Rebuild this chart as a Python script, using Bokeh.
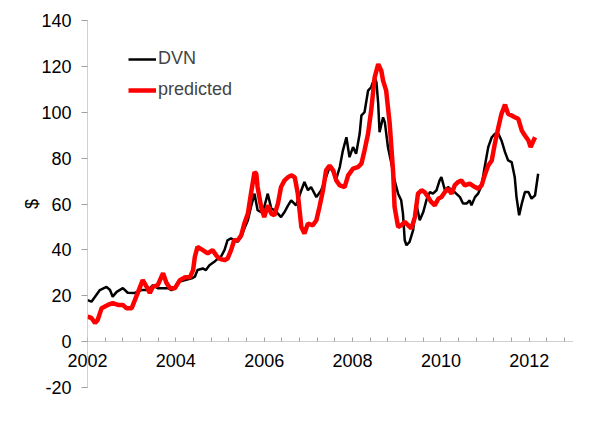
from bokeh.plotting import figure
from bokeh.models import (Range1d, FixedTicker, Legend, LegendItem, PrintfTickFormatter,
                          LinearAxis)
from bokeh.embed import file_html
from bokeh.resources import INLINE

# ---- data ----
dvn_years = [2002.00, 2002.09, 2002.28, 2002.43, 2002.51, 2002.57, 2002.66, 2002.80, 2002.91,
             2003.07, 2003.22, 2003.37, 2003.48, 2003.59, 2003.82, 2003.90, 2003.98,
             2004.05, 2004.21, 2004.36, 2004.43, 2004.49, 2004.61, 2004.68, 2004.76, 2004.87, 2004.95,
             2005.02, 2005.10, 2005.17, 2005.25, 2005.32, 2005.40, 2005.48, 2005.55, 2005.63, 2005.70,
             2005.78, 2005.85, 2005.93, 2006.00, 2006.08, 2006.16, 2006.23, 2006.31, 2006.38, 2006.46,
             2006.54, 2006.61, 2006.72, 2006.84, 2006.91, 2006.99, 2007.06, 2007.18, 2007.29, 2007.40,
             2007.48, 2007.56, 2007.63, 2007.71, 2007.78, 2007.86, 2007.93, 2008.01, 2008.08, 2008.16,
             2008.20, 2008.27, 2008.35, 2008.42, 2008.50, 2008.54, 2008.58, 2008.61, 2008.69, 2008.73,
             2008.80, 2008.88, 2008.95, 2009.03, 2009.10, 2009.14, 2009.18, 2009.22, 2009.29, 2009.37,
             2009.44, 2009.52, 2009.60, 2009.67, 2009.75, 2009.82, 2009.90, 2009.97, 2010.01, 2010.09,
             2010.16, 2010.24, 2010.31, 2010.43, 2010.50, 2010.58, 2010.65, 2010.69, 2010.77, 2010.84,
             2010.92, 2010.99, 2011.07, 2011.15, 2011.22, 2011.30, 2011.37, 2011.45, 2011.52, 2011.60,
             2011.67, 2011.71, 2011.77, 2011.83, 2011.90, 2011.98, 2012.05, 2012.13, 2012.20]
dvn_values = [18.1, 17.4, 22.5, 23.9, 22.5, 19.6, 21.7, 23.3, 21.3,
              21.2, 22.5, 22.5, 24.6, 23.3, 23.3, 22.5, 23.3,
              26.0, 26.8, 27.6, 28.3, 31.2, 31.9, 31.2, 33.3, 34.8, 36.2,
              37.0, 39.9, 44.2, 45.0, 44.2, 43.5, 45.7, 49.3, 52.9, 58.7,
              64.5, 57.3, 56.5, 58.7, 64.5, 58.0, 57.3, 55.8, 54.3, 56.5,
              59.4, 61.6, 59.4, 66.0, 69.6, 66.0, 67.4, 63.0, 66.0, 71.7,
              76.1, 73.9, 71.0, 76.1, 83.3, 89.1, 80.4, 84.8, 81.9, 90.6,
              98.6, 100.0, 109.4, 110.9, 115.2, 113.0, 103.7, 91.3, 97.8, 95.6,
              84.8, 77.6, 70.3, 64.5, 61.6, 55.8, 44.2, 42.0, 43.5, 48.6,
              60.2, 52.9, 56.5, 61.6, 65.2, 64.5, 66.0, 70.3, 71.7, 66.0,
              67.4, 66.0, 65.2, 63.0, 60.2, 60.2, 61.6, 59.4, 63.0, 64.5,
              68.1, 76.1, 84.8, 89.1, 90.6, 90.6, 87.7, 82.6, 79.0, 78.3,
              71.7, 63.0, 55.1, 60.2, 65.2, 65.2, 62.3, 63.8, 73.2]

pred_years = [2002.00, 2002.09, 2002.17, 2002.23, 2002.32, 2002.46, 2002.57, 2002.69, 2002.80, 2002.88,
              2003.00, 2003.07, 2003.19, 2003.25, 2003.34, 2003.41, 2003.48, 2003.59, 2003.71, 2003.79,
              2003.87, 2003.98, 2004.09, 2004.21, 2004.32, 2004.39, 2004.43, 2004.49, 2004.61, 2004.72,
              2004.83, 2004.91, 2004.98, 2005.10, 2005.17, 2005.25, 2005.32, 2005.40, 2005.48, 2005.55,
              2005.63, 2005.70, 2005.78, 2005.82, 2005.85, 2005.93, 2006.00, 2006.08, 2006.16, 2006.23,
              2006.31, 2006.38, 2006.46, 2006.54, 2006.61, 2006.69, 2006.76, 2006.84, 2006.91, 2006.99,
              2007.10, 2007.18, 2007.25, 2007.33, 2007.40, 2007.48, 2007.56, 2007.63, 2007.71, 2007.82,
              2007.90, 2008.01, 2008.12, 2008.20, 2008.27, 2008.35, 2008.42, 2008.50, 2008.58, 2008.65,
              2008.69, 2008.76, 2008.84, 2008.92, 2008.95, 2009.03, 2009.10, 2009.18, 2009.26, 2009.33,
              2009.41, 2009.48, 2009.56, 2009.63, 2009.71, 2009.78, 2009.86, 2009.94, 2010.01, 2010.09,
              2010.16, 2010.24, 2010.31, 2010.39, 2010.46, 2010.54, 2010.65, 2010.77, 2010.84, 2010.92,
              2010.99, 2011.07, 2011.15, 2011.22, 2011.30, 2011.37, 2011.45, 2011.52, 2011.60, 2011.67,
              2011.75, 2011.83, 2011.90, 2011.98, 2012.03, 2012.08, 2012.13]
pred_values = [10.9, 10.3, 8.1, 9.4, 14.6, 16.0, 16.8, 16.0, 16.0, 14.6,
               14.6, 18.0, 23.9, 26.8, 23.9, 21.2, 23.9, 24.6, 29.8, 25.5,
               23.3, 23.3, 26.8, 28.1, 28.1, 31.2, 37.0, 41.3, 39.9, 38.5,
               39.9, 37.7, 36.2, 35.5, 36.2, 39.9, 44.2, 44.2, 46.4, 51.5,
               55.8, 64.5, 73.9, 73.2, 67.4, 58.7, 54.3, 59.4, 55.8, 55.1,
               60.2, 67.4, 70.3, 71.7, 72.5, 71.7, 64.5, 50.0, 47.1, 51.5,
               50.7, 52.9, 58.7, 66.0, 74.7, 76.8, 74.7, 70.3, 68.1, 67.4,
               72.5, 75.4, 76.1, 77.6, 83.3, 90.6, 100.7, 115.2, 121.0, 118.1,
               113.8, 109.4, 95.0, 73.2, 58.7, 50.0, 50.7, 52.2, 50.7, 49.3,
               54.3, 64.5, 66.0, 65.2, 63.0, 60.9, 59.4, 62.3, 63.0, 65.2,
               66.7, 64.5, 68.1, 69.6, 70.3, 68.1, 68.9, 67.4, 66.7, 68.1,
               72.5, 76.8, 79.0, 86.3, 93.5, 99.3, 103.3, 99.3, 98.6, 97.8,
               97.1, 92.0, 89.9, 87.7, 84.8, 87.0, 89.1]

x_major_ticks = [2002, 2004, 2006, 2008, 2010, 2012]
x_minor_ticks = [2002.4, 2002.8, 2003.2, 2003.6, 2004.4, 2004.8, 2005.2, 2005.6,
                 2006.4, 2006.8, 2007.2, 2007.6, 2008.4, 2008.8, 2009.2, 2009.6,
                 2010.4, 2010.8, 2011.2, 2011.6, 2012.4, 2012.8]
y_ticks = [-20, 0, 20, 40, 60, 80, 100, 120, 140]

FONT = "Liberation Sans"
AXIS_GRAY = "#a0a0a0"

p = figure(width=600, height=420,
           min_border_left=87, min_border_right=27, min_border_top=20, min_border_bottom=33,
           x_range=Range1d(2002, 2013), y_range=Range1d(-20, 140),
           output_backend="svg", toolbar_location=None)
p.outline_line_color = None
p.xgrid.grid_line_color = None
p.ygrid.grid_line_color = None
p.background_fill_color = "white"
p.border_fill_color = "white"

# bottom axis: only its tick labels are shown, pulled up to sit just below the y = 0 line
xa = p.xaxis[0]
xa.ticker = FixedTicker(ticks=x_major_ticks, minor_ticks=[])
xa.axis_line_color = None
xa.major_tick_line_color = None
xa.minor_tick_line_color = None
xa.major_tick_in = 0
xa.major_tick_out = 0
xa.major_label_standoff = -34
xa.major_label_text_font = FONT
xa.major_label_text_font_size = "18px"
xa.major_label_text_color = "black"

# x axis line and ticks crossing at y = 0
x0 = LinearAxis(fixed_location=0,
                ticker=FixedTicker(ticks=x_major_ticks, minor_ticks=x_minor_ticks),
                axis_line_color=AXIS_GRAY, axis_line_dash="1 1",
                major_tick_line_color=AXIS_GRAY, minor_tick_line_color=AXIS_GRAY,
                major_tick_in=4, major_tick_out=0, minor_tick_in=4, minor_tick_out=0,
                major_label_text_color=None, major_label_text_font_size="0px")
p.add_layout(x0, "below")

ya = p.yaxis[0]
ya.ticker = FixedTicker(ticks=y_ticks, minor_ticks=[])
ya.formatter = PrintfTickFormatter(format="%d")
ya.axis_line_color = AXIS_GRAY
ya.axis_line_dash = "1 1"
ya.major_tick_line_color = AXIS_GRAY
ya.major_tick_in = 0
ya.major_tick_out = 6
ya.minor_tick_line_color = None
ya.major_label_standoff = 10
ya.major_label_text_font = FONT
ya.major_label_text_font_size = "18px"
ya.major_label_text_color = "black"
ya.axis_label = "$"
ya.axis_label_text_font = FONT
ya.axis_label_text_font_size = "18px"
ya.axis_label_text_font_style = "normal"
ya.axis_label_text_color = "black"
ya.axis_label_standoff = -4

r_dvn = p.line(dvn_years, dvn_values, line_color="black", line_width=2.5)
r_pred = p.line(pred_years, pred_values, line_color="#ff0000", line_width=4.5)

legend = Legend(items=[LegendItem(label="DVN", renderers=[r_dvn]),
                       LegendItem(label="predicted", renderers=[r_pred])],
                location=(41, 287), orientation="vertical",
                padding=0, margin=0, spacing=10,
                glyph_width=28, glyph_height=20, label_height=20, label_standoff=2,
                label_text_font=FONT, label_text_font_size="18px",
                border_line_color=None, background_fill_alpha=0)
p.add_layout(legend)

open("out.html", "w").write(file_html(p, INLINE))
